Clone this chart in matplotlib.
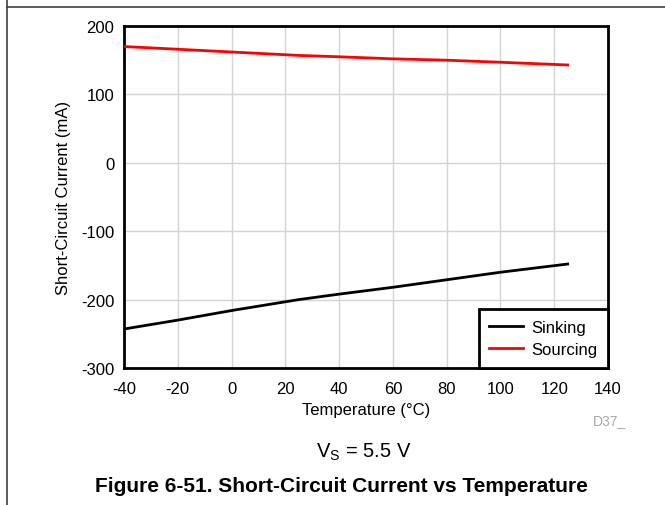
import matplotlib
matplotlib.use("Agg")
import matplotlib.pyplot as plt
from matplotlib.lines import Line2D

plt.rcParams["font.family"] = ["Liberation Sans", "DejaVu Sans"]
plt.rcParams["axes.unicode_minus"] = False

# data
temp = [-40, -20, 0, 25, 40, 60, 80, 100, 125]
sinking = [-243, -230, -216, -200, -192, -182, -171, -160, -148]
sourcing = [170, 166, 162, 157, 155, 152, 150, 147, 143]

xticks = [-40, -20, 0, 20, 40, 60, 80, 100, 120, 140]
yticks = [-300, -200, -100, 0, 100, 200]

W, H = 665, 506
fig = plt.figure(figsize=(W / 100, H / 100), dpi=100)
# axes box in pixels: left 124, right 608, top 27, bottom 369
ax = fig.add_axes([124 / W, 1 - 369 / H, (608 - 124) / W, (369 - 27) / H])

ax.plot(temp, sinking, color="black", lw=2, label="Sinking", zorder=3)
ax.plot(temp, sourcing, color="#ff0000", lw=2, label="Sourcing", zorder=3)

ax.set_xlim(-40, 140)
ax.set_ylim(-300, 200)
ax.set_xticks(xticks)
ax.set_yticks(yticks)
ax.tick_params(length=0, labelsize=12, colors="black")
ax.tick_params(axis="x", pad=9)
ax.tick_params(axis="y", pad=7)
ax.grid(color="#d4d4d4", lw=1)
for s in ax.spines.values():
    s.set_linewidth(2)
    s.set_color("black")

ax.set_xlabel("Temperature (°C)", fontsize=12, labelpad=5)
ax.set_ylabel("Short-Circuit Current (mA)", fontsize=12, labelpad=7)

leg = ax.legend(loc="lower right", fancybox=False, framealpha=1, edgecolor="black",
                borderaxespad=0, fontsize=12, handlelength=2.0, handletextpad=0.5,
                labelspacing=0.45, borderpad=0.65)
leg.get_frame().set_linewidth(2)

fig.text(593 / W, 1 - 421 / H, "D37_", color="#a8a8a8", fontsize=10, ha="left", va="center")
fig.text(364 / W, 1 - 452 / H, "V$_\\mathregular{S}$ = 5.5 V", fontsize=14.5,
         ha="center", va="center")
fig.text(341 / W, 1 - 487 / H, "Figure 6-51. Short-Circuit Current vs Temperature",
         fontsize=15, fontweight="bold", ha="center", va="center")

# page frame lines
fig.add_artist(Line2D([7 / W, 1.0], [1 - 8 / H, 1 - 8 / H], color="#404040", lw=1.2,
                      transform=fig.transFigure))
fig.add_artist(Line2D([7 / W, 7 / W], [0, 1], color="#404040", lw=1.2,
                      transform=fig.transFigure))

fig.savefig("out.png", dpi=100)
